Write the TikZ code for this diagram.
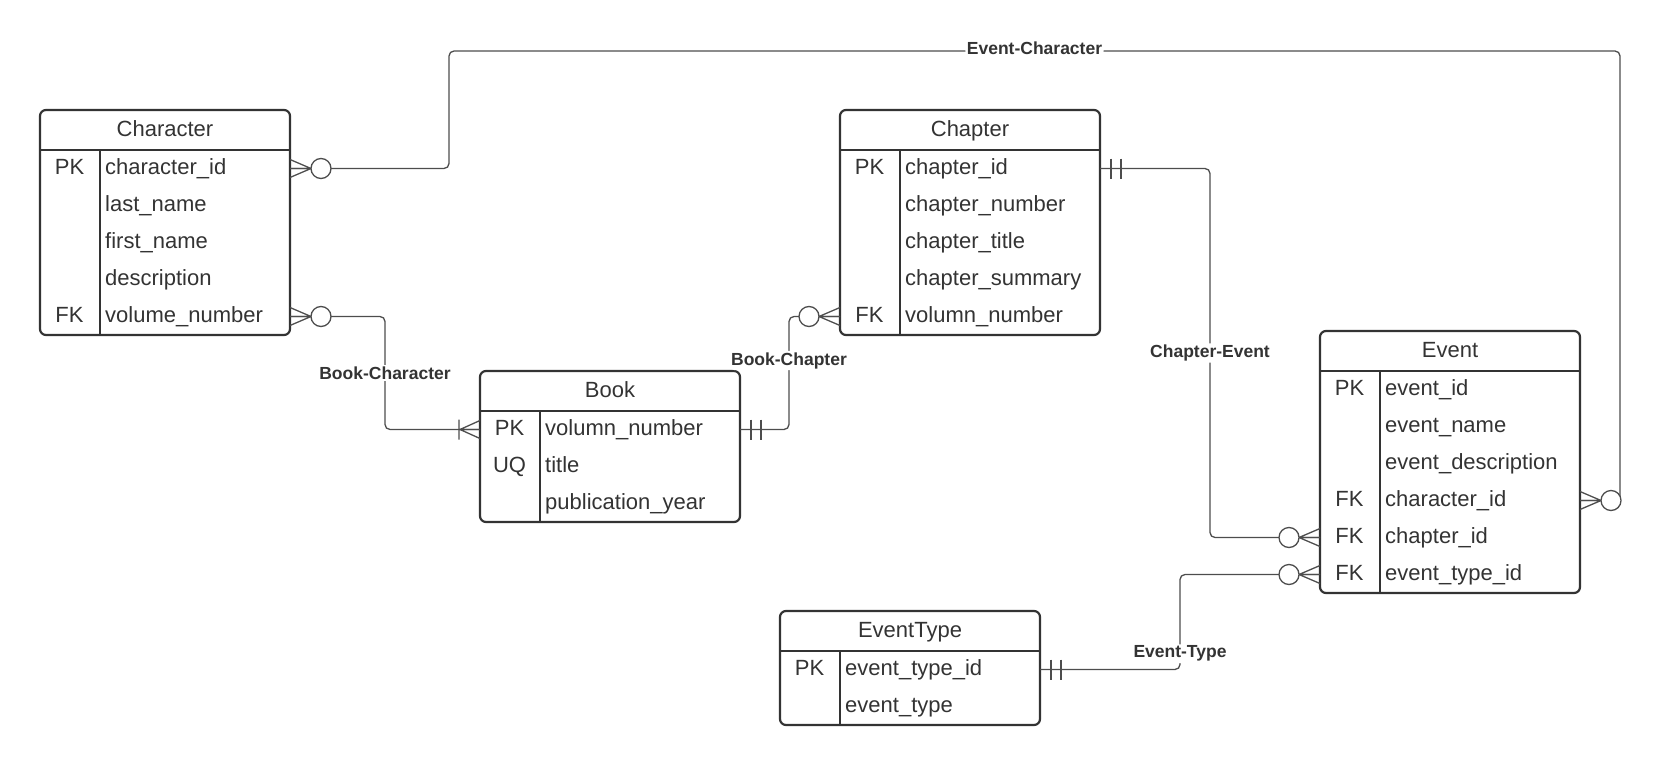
\documentclass[tikz,border=0pt]{standalone}
\usepackage{fontspec}
\setmainfont{Liberation Sans}
\usetikzlibrary{calc}
\definecolor{ink}{HTML}{333333}
\definecolor{wire}{HTML}{4D4D4D}

\tikzset{
  tbl/.style={draw=ink, line width=2.2pt, rounded corners=6pt, anchor=north west, inner sep=0pt, outer sep=0pt},
  tblline/.style={draw=ink, line width=2.2pt},
  fieldrow/.style={inner sep=0pt, outer sep=0pt, minimum height=37pt},
  titletext/.style={anchor=base, inner sep=0pt, text=ink, font=\fontsize{22}{26}\selectfont},
  keycell/.style={anchor=base, inner sep=0pt, text=ink, font=\fontsize{22}{26}\selectfont},
  fieldtext/.style={anchor=base west, inner sep=0pt, text=ink, font=\fontsize{22}{26}\selectfont},
  rel/.style={draw=wire, line width=1.3pt, rounded corners=5pt},
  sym/.style={draw=wire, line width=1.3pt},
  rellabel/.style={fill=white, inner sep=1.5pt, text=ink, font=\fontsize{17.5}{21}\selectfont\bfseries},
  zeromany/.pic={\draw[sym] (0,-9) -- (21,0) -- (0,9) (0,0) -- (21,0);
                 \draw[sym, fill=white] (31,0) circle (10pt);},
  onemany/.pic={\draw[sym] (0,-9) -- (20,0) -- (0,9) (0,0) -- (21,0) (21,-10) -- (21,10);},
  onlyone/.pic={\draw[sym] (0,0) -- (21,0) (11,-10) -- (11,10) (21,-10) -- (21,10);},
}

\begin{document}
\begin{tikzpicture}[x=1pt, y=-1pt]
    \useasboundingbox (0,0) rectangle (1662,765);

    % Character
    \node[tbl, minimum width=250pt, minimum height=225pt] (chr) at (40,110) {};
    \node[titletext] (chr-t) at ($(chr.north)+(0,26.5)$) {Character};
    \draw[tblline] ($(chr.north west)+(0,40)$) -- ($(chr.north east)+(0,40)$);
    \draw[tblline] ($(chr.north west)+(60,40)$) -- ($(chr.south west)+(60,0)$);
    \foreach \k/\f [count=\i] in {PK/character\_id, /last\_name, /first\_name, /description, FK/volume\_number} {
        \node[fieldrow, minimum width=250pt] (chr\i) at ($(chr.north)+(0,21.5+37*\i)$) {};
        \node[keycell] (chr\i-k) at ($(chr\i.west)+(29.5,5.5)$) {\k};
        \node[fieldtext] (chr\i-f) at ($(chr\i.west)+(65,5.5)$) {\f};
    }

    % Chapter
    \node[tbl, minimum width=260pt, minimum height=225pt] (chp) at (840,110) {};
    \node[titletext] (chp-t) at ($(chp.north)+(0,26.5)$) {Chapter};
    \draw[tblline] ($(chp.north west)+(0,40)$) -- ($(chp.north east)+(0,40)$);
    \draw[tblline] ($(chp.north west)+(60,40)$) -- ($(chp.south west)+(60,0)$);
    \foreach \k/\f [count=\i] in {PK/chapter\_id, /chapter\_number, /chapter\_title, /chapter\_summary, FK/volumn\_number} {
        \node[fieldrow, minimum width=260pt] (chp\i) at ($(chp.north)+(0,21.5+37*\i)$) {};
        \node[keycell] (chp\i-k) at ($(chp\i.west)+(29.5,5.5)$) {\k};
        \node[fieldtext] (chp\i-f) at ($(chp\i.west)+(65,5.5)$) {\f};
    }

    % Book
    \node[tbl, minimum width=260pt, minimum height=151pt] (bk) at (480,371) {};
    \node[titletext] (bk-t) at ($(bk.north)+(0,26.5)$) {Book};
    \draw[tblline] ($(bk.north west)+(0,40)$) -- ($(bk.north east)+(0,40)$);
    \draw[tblline] ($(bk.north west)+(60,40)$) -- ($(bk.south west)+(60,0)$);
    \foreach \k/\f [count=\i] in {PK/volumn\_number, UQ/title, /publication\_year} {
        \node[fieldrow, minimum width=260pt] (bk\i) at ($(bk.north)+(0,21.5+37*\i)$) {};
        \node[keycell] (bk\i-k) at ($(bk\i.west)+(29.5,5.5)$) {\k};
        \node[fieldtext] (bk\i-f) at ($(bk\i.west)+(65,5.5)$) {\f};
    }

    % Event
    \node[tbl, minimum width=260pt, minimum height=262pt] (evt) at (1320,331) {};
    \node[titletext] (evt-t) at ($(evt.north)+(0,26.5)$) {Event};
    \draw[tblline] ($(evt.north west)+(0,40)$) -- ($(evt.north east)+(0,40)$);
    \draw[tblline] ($(evt.north west)+(60,40)$) -- ($(evt.south west)+(60,0)$);
    \foreach \k/\f [count=\i] in {PK/event\_id, /event\_name, /event\_description, FK/character\_id, FK/chapter\_id, FK/event\_type\_id} {
        \node[fieldrow, minimum width=260pt] (evt\i) at ($(evt.north)+(0,21.5+37*\i)$) {};
        \node[keycell] (evt\i-k) at ($(evt\i.west)+(29.5,5.5)$) {\k};
        \node[fieldtext] (evt\i-f) at ($(evt\i.west)+(65,5.5)$) {\f};
    }

    % EventType
    \node[tbl, minimum width=260pt, minimum height=114pt] (et) at (780,611) {};
    \node[titletext] (et-t) at ($(et.north)+(0,26.5)$) {EventType};
    \draw[tblline] ($(et.north west)+(0,40)$) -- ($(et.north east)+(0,40)$);
    \draw[tblline] ($(et.north west)+(60,40)$) -- ($(et.south west)+(60,0)$);
    \foreach \k/\f [count=\i] in {PK/event\_type\_id, /event\_type} {
        \node[fieldrow, minimum width=260pt] (et\i) at ($(et.north)+(0,21.5+37*\i)$) {};
        \node[keycell] (et\i-k) at ($(et\i.west)+(29.5,5.5)$) {\k};
        \node[fieldtext] (et\i-f) at ($(et\i.west)+(65,5.5)$) {\f};
    }

    % relations
    \coordinate (ec-a) at (449,51);
    \coordinate (ec-b) at (1620,51);
    \draw[rel] (chr1.east) -| (ec-a) -- node[rellabel, yshift=2.5pt] (ec-l) {Event-Character} (ec-b) |- (evt4.east);
    \draw[rel] (chr5.east) -- ++(95,0) |- node[rellabel, pos=0.25] (bc-l) {Book-Character} (bk1.west);
    \draw[rel] (bk1.east) -- ++(49,0) |- node[rellabel, pos=0.305] (bp-l) {Book-Chapter} (chp5.west);
    \draw[rel] (chp1.east) -- ++(110,0) |- node[rellabel, pos=0.25] (ce-l) {Chapter-Event} (evt5.west);
    \draw[rel] (et1.east) -- ++(140,0) |- node[rellabel, pos=0.083] (et-l) {Event-Type} (evt6.west);

    % ends
    \path (chr1.east) pic {zeromany};
    \path (chr5.east) pic {zeromany};
    \path (evt4.east) pic {zeromany};
    \path (bk1.west) pic[rotate=180] {onemany};
    \path (bk1.east) pic {onlyone};
    \path (chp5.west) pic[rotate=180] {zeromany};
    \path (chp1.east) pic {onlyone};
    \path (evt5.west) pic[rotate=180] {zeromany};
    \path (evt6.west) pic[rotate=180] {zeromany};
    \path (et1.east) pic {onlyone};
\end{tikzpicture}
\end{document}
